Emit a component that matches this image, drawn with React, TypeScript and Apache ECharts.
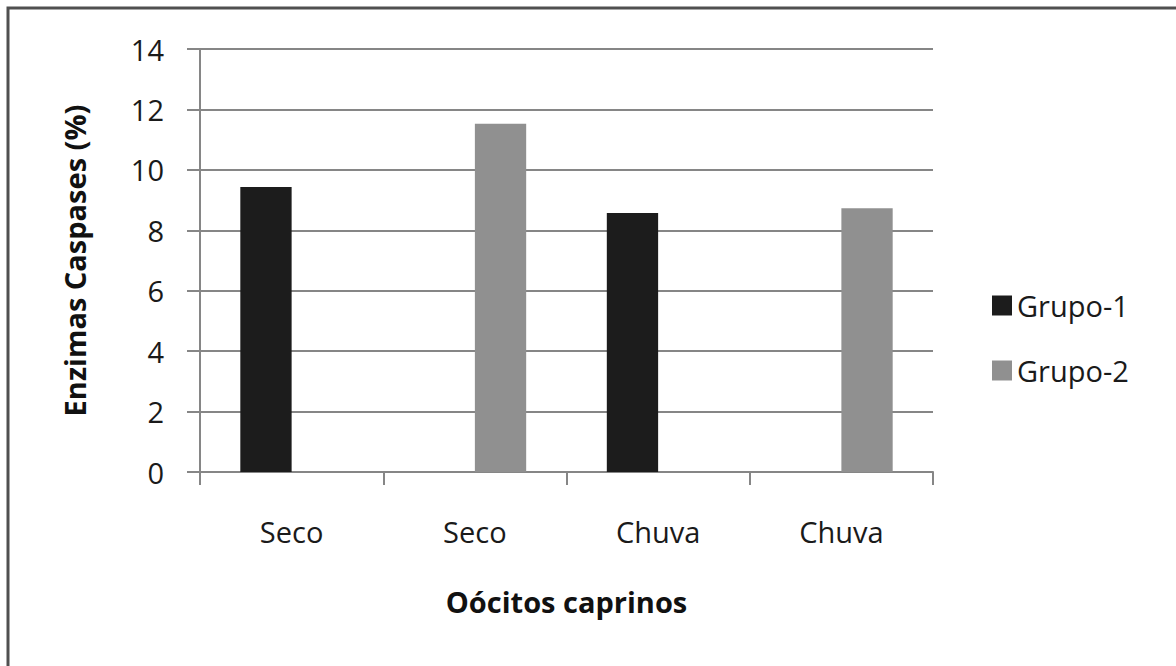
import React, { useEffect, useRef } from "react";
import * as echarts from "echarts";

const categories = ["Seco", "Seco", "Chuva", "Chuva"];
const grupo1 = [9.43, null, 8.57, null];
const grupo2 = [null, 11.53, null, 8.73];
const yTicks = { min: 0, max: 14, interval: 2 };
const seriesNames = ["Grupo-1", "Grupo-2"];
const xTitle = "Oócitos caprinos";
const yTitle = "Enzimas Caspases (%)";

const FONT = "'Open Sans', Lato, sans-serif";

export default function App() {
  const ref = useRef<HTMLDivElement>(null);
  useEffect(() => {
    if (!ref.current) return;
    const chart = echarts.init(ref.current, null, { renderer: "svg" });
    chart.setOption({
      animation: false,
      backgroundColor: "#ffffff",
      textStyle: { fontFamily: FONT },
      grid: { left: 200, right: 243, top: 49, bottom: 194, containLabel: false },
      legend: {
        orient: "vertical",
        left: 987,
        top: 286,
        itemWidth: 20,
        itemHeight: 20,
        itemGap: 36,
        icon: "rect",
        data: seriesNames,
        textStyle: { fontFamily: FONT, fontSize: 29, color: "#1a1a1a", padding: [0, 0, 0, 0] },
      },
      xAxis: {
        type: "category",
        data: categories,
        name: xTitle,
        nameLocation: "middle",
        nameGap: 115,
        nameTextStyle: { fontFamily: FONT, fontSize: 29, fontWeight: "bold", color: "#111" },
        axisLine: { lineStyle: { color: "#868686", width: 2 } },
        axisTick: { show: true, length: 13, lineStyle: { color: "#868686", width: 2 } },
        axisLabel: { margin: 45, fontFamily: FONT, fontSize: 29, color: "#1a1a1a" },
      },
      yAxis: {
        type: "value",
        min: yTicks.min,
        max: yTicks.max,
        interval: yTicks.interval,
        name: yTitle,
        nameLocation: "middle",
        nameGap: 111,
        nameTextStyle: { fontFamily: FONT, fontSize: 29, fontWeight: "bold", color: "#111" },
        axisLine: { show: true, lineStyle: { color: "#868686", width: 2 } },
        axisTick: { show: true, length: 13, lineStyle: { color: "#868686", width: 2 } },
        axisLabel: { margin: 36, fontFamily: FONT, fontSize: 29, color: "#1a1a1a" },
        splitLine: { show: true, lineStyle: { color: "#868686", width: 2 } },
      },
      series: [
        {
          name: seriesNames[0],
          type: "bar",
          data: grupo1,
          barGap: "0%",
          barCategoryGap: "44%",
          itemStyle: { color: "#1c1c1c" },
        },
        {
          name: seriesNames[1],
          type: "bar",
          data: grupo2,
          barGap: "0%",
          barCategoryGap: "44%",
          itemStyle: { color: "#909090" },
        },
      ],
      graphic: [
        {
          type: "rect",
          shape: { x: 8, y: 8, width: 1300, height: 1000 },
          style: { fill: "none", stroke: "#505050", lineWidth: 3 },
          silent: true,
        },
      ],
    });
    return () => chart.dispose();
  }, []);
  return (
    <div style={{ position: "fixed", left: 0, top: 0, width: 1176, height: 666, background: "#fff" }}>
      <div ref={ref} style={{ width: 1176, height: 666 }} />
    </div>
  );
}
